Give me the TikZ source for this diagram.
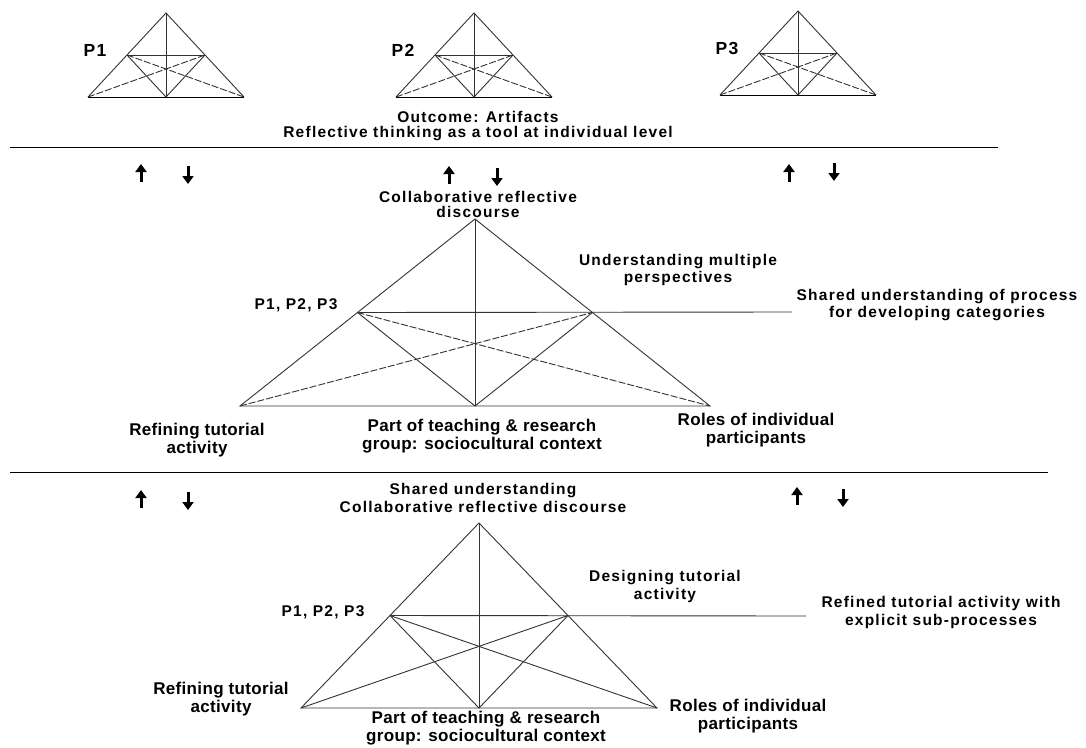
\documentclass[tikz,border=0pt]{standalone}
\usepackage{fontspec}
\setmainfont{Liberation Sans}
\newfontfamily\widefont[LetterSpace=8]{Liberation Sans}
\newfontfamily\narrowfont[LetterSpace=2]{Liberation Sans}
\usetikzlibrary{calc,arrows.meta}
\definecolor{edge}{HTML}{333333}

\begin{document}
\begin{tikzpicture}[
    x=1pt, y=-1pt,
    tri/.style={draw=edge, line width=0.9pt},
    dsh/.style={tri, dash pattern=on 7pt off 2pt},
    sep/.style={draw=black, line width=1pt},
    updown/.style={line width=3pt, -{Triangle[length=8pt,width=11pt]}},
    wide/.style={font=\widefont\bfseries\fontsize{15.5}{17}\selectfont, align=center, inner sep=0pt},
    narrow/.style={font=\narrowfont\bfseries\fontsize{17}{18}\selectfont, align=center, inner sep=0pt}
]
    \fill[white] (0,0) rectangle (1086,747);
    \useasboundingbox (0,0) rectangle (1086,747);

    % individual triangles
    \foreach \id/\cx/\ty in {P1/166/13, P2/474/13, P3/798/11} {
        \coordinate (\id-t) at (\cx,\ty);
        \coordinate (\id-l) at (\cx-78,\ty+84);
        \coordinate (\id-r) at (\cx+78,\ty+84);
        \coordinate (\id-b) at (\cx,\ty+84);
        \coordinate (\id-ml) at ($(\id-t)!0.5!(\id-l)$);
        \coordinate (\id-mr) at ($(\id-t)!0.5!(\id-r)$);
        \draw[tri] (\id-l) -- (\id-t) -- (\id-r);
        \draw[tri, draw=black] (\id-l) -- (\id-r);
        \draw[tri] (\id-t) -- (\id-b);
        \draw[tri] (\id-ml) -- (\id-mr);
        \draw[tri] (\id-ml) -- (\id-b) -- (\id-mr);
        \draw[dsh] (\id-l) -- (\id-mr);
        \draw[dsh] (\id-ml) -- (\id-r);
        \node[wide, font=\widefont\bfseries\fontsize{17.5}{18}\selectfont] (\id-lab) at (\cx-71,\ty+37) {\id};
    }
    \node[wide, font=\widefont\bfseries\fontsize{15.5}{14.5}\selectfont] (outcome) at (478,126)
        {Outcome: Artifacts\\Reflective thinking as a tool at individual level};
    \coordinate (s1a) at (10,147);
    \coordinate (s1b) at (998,147);
    \draw[sep] (s1a) -- (s1b);

    % up and down arrows
    \foreach \k/\ux/\uy/\dx/\dy in {a/141/164/188/166, b/449/166/497/168, c/789/164/834/163,
                                    d/141/490/188/492, e/797/487/843/489} {
        \coordinate (up\k-s) at (\ux,\uy+18);
        \coordinate (up\k-e) at (\ux,\uy);
        \coordinate (dn\k-s) at (\dx,\dy);
        \coordinate (dn\k-e) at (\dx,\dy+18);
        \draw[updown] (up\k-s) -- (up\k-e);
        \draw[updown] (dn\k-s) -- (dn\k-e);
    }

    % group triangle
    \coordinate (mT) at (475,219);
    \coordinate (mL) at (240,406);
    \coordinate (mR) at (710,406);
    \coordinate (mB) at (475,406);
    \coordinate (mML) at ($(mT)!0.5!(mL)$);
    \coordinate (mMR) at ($(mT)!0.5!(mR)$);
    \coordinate (mE) at (792,312);
    \draw[tri] (mT) -- (mL) -- (mR) -- cycle;
    \draw[tri] (mT) -- (mB);
    \draw[tri] (mML) -- (mE);
    \draw[tri] (mML) -- (mB) -- (mMR);
    \draw[dsh] (mL) -- (mMR);
    \draw[dsh] (mML) -- (mR);

    \node[wide, font=\widefont\bfseries\fontsize{15.5}{15}\selectfont] (mtop) at (478,204)
        {Collaborative reflective\\discourse};
    \node[wide] (mpersp) at (678,270) {Understanding multiple\\perspectives};
    \node[wide] (mwho) at (296,305) {P1, P2, P3};
    \node[wide] (mshared) at (937,305) {Shared understanding of process\\for developing categories};
    \node[narrow] (mrefine) at (197,440) {Refining tutorial\\activity};
    \node[narrow] (mcontext) at (482,436) {Part of teaching \& research\\group: sociocultural context};
    \node[narrow] (mroles) at (756,430) {Roles of individual\\participants};

    \coordinate (s2a) at (10,472);
    \coordinate (s2b) at (1048,472);
    \draw[sep] (s2a) -- (s2b);

    % refined triangle
    \coordinate (bT) at (479,523);
    \coordinate (bL) at (301,708);
    \coordinate (bR) at (657,708);
    \coordinate (bB) at (479,708);
    \coordinate (bML) at ($(bT)!0.5!(bL)$);
    \coordinate (bMR) at ($(bT)!0.5!(bR)$);
    \coordinate (bE) at (806,616);
    \draw[tri] (bT) -- (bL) -- (bR) -- cycle;
    \draw[tri] (bT) -- (bB);
    \draw[tri] (bML) -- (bE);
    \draw[tri] (bML) -- (bB) -- (bMR);
    \draw[tri] (bL) -- (bMR);
    \draw[tri] (bML) -- (bR);

    \node[wide, font=\widefont\bfseries\fontsize{15.5}{18}\selectfont] (btop) at (483,498)
        {Shared understanding\\Collaborative reflective discourse};
    \node[wide, font=\widefont\bfseries\fontsize{15.5}{18}\selectfont] (bdesign) at (665,586)
        {Designing tutorial\\activity};
    \node[wide] (bwho) at (323,612) {P1, P2, P3};
    \node[wide, font=\widefont\bfseries\fontsize{15.5}{18}\selectfont] (brefined) at (941,612)
        {Refined tutorial activity with\\explicit sub-processes};
    \node[narrow] (brefine) at (221,699) {Refining tutorial\\activity};
    \node[narrow] (bcontext) at (486,728) {Part of teaching \& research\\group: sociocultural context};
    \node[narrow] (broles) at (748,716) {Roles of individual\\participants};
\end{tikzpicture}
\end{document}
